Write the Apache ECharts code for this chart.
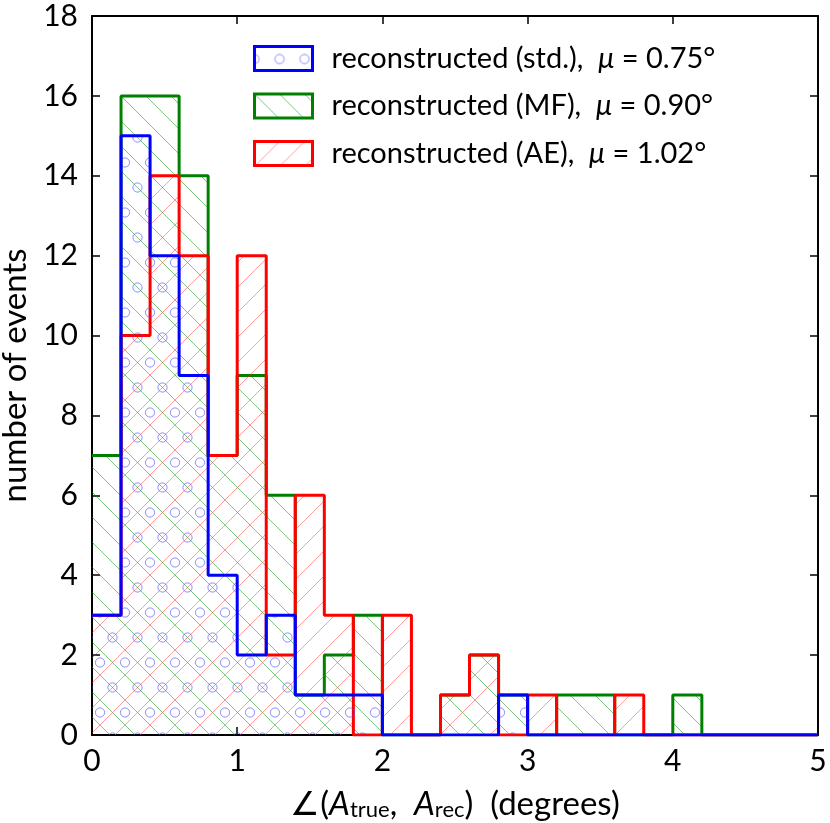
<!DOCTYPE html>
<html>
<head>
<meta charset="utf-8">
<script src="https://cdn.jsdelivr.net/npm/echarts@6/dist/echarts.min.js"></script>
<style>
  html, body { margin: 0; padding: 0; background: #fff; }
  #chart { width: 830px; height: 823px; }
</style>
</head>
<body>
<div id="chart"></div>
<script>
// bin edges (degrees), 0.2 wide
const binEdges = [0, 0.2, 0.4, 0.6, 0.8, 1.0, 1.2, 1.4, 1.6, 1.8, 2.0, 2.2, 2.4, 2.6, 2.8,
                  3.0, 3.2, 3.4, 3.6, 3.8, 4.0, 4.2, 4.4, 4.6, 4.8, 5.0];

// counts per bin
const countsStd = [3, 15, 12, 9, 4, 2, 3, 1, 1, 1, 0, 0, 0, 0, 1, 0, 0, 0, 0, 0, 0, 0, 0, 0, 0];
const countsMF  = [7, 16, 16, 14, 7, 9, 6, 1, 2, 3, 0, 0, 1, 2, 1, 0, 1, 1, 0, 0, 1, 0, 0, 0, 0];
const countsAE  = [3, 10, 14, 12, 7, 12, 2, 6, 3, 0, 3, 0, 1, 2, 0, 1, 0, 0, 1, 0, 0, 0, 0, 0, 0];

const seriesNames = ['reconstructed (std.)', 'reconstructed (MF)', 'reconstructed (AE)'];
const meanLabels = ['0.75°', '0.90°', '1.02°'];

const FONT = 'Lato';

// hatch tiles
function lineHatch(color, dir) {
    const s = 25;
    const c = document.createElement('canvas');
    c.width = s; c.height = s;
    const ctx = c.getContext('2d');
    ctx.strokeStyle = color;
    ctx.lineWidth = 1;
    for (let k = -1; k <= 1; k++) {
        ctx.beginPath();
        if (dir === '/') {
            ctx.moveTo(k * s, s);
            ctx.lineTo(k * s + s, 0);
        } else {
            ctx.moveTo(k * s, 0);
            ctx.lineTo(k * s + s, s);
        }
        ctx.stroke();
    }
    return { image: c, repeat: 'repeat' };
}

function circleHatch(color) {
    const w = 25, h = 50;
    const c = document.createElement('canvas');
    c.width = w; c.height = h;
    const ctx = c.getContext('2d');
    ctx.strokeStyle = color;
    ctx.lineWidth = 1;
    const pts = [[0, 12.5], [25, 12.5], [12.5, 37.5]];
    pts.forEach(p => {
        ctx.beginPath();
        ctx.arc(p[0], p[1], 4.6, 0, Math.PI * 2);
        ctx.stroke();
    });
    return { image: c, repeat: 'repeat' };
}

const patStd = circleHatch('rgba(70,70,255,0.6)');
const patMF = lineHatch('rgba(0,140,0,0.5)', '\\');
const patAE = lineHatch('rgba(255,40,40,0.45)', '/');

function stepData(counts) {
    const d = counts.map((c, i) => [binEdges[i], c]);
    d.push([binEdges[binEdges.length - 1], 0]);
    return d;
}

function histSeries(name, counts, color, pattern, z) {
    return {
        name: name,
        type: 'line',
        step: 'end',
        data: stepData(counts),
        symbol: 'none',
        z: z,
        lineStyle: { color: color, width: 3 },
        itemStyle: { color: color },
        areaStyle: { color: pattern, opacity: 1 },
        animation: false
    };
}

const chart = echarts.init(document.getElementById('chart'));

const axisCommon = {
    axisLine: { show: true, onZero: false, lineStyle: { color: '#000', width: 2 } },
    axisTick: { show: true, inside: true, length: 8, lineStyle: { color: '#000', width: 1.5 } },
    splitLine: { show: false }
};

const richName = {
    it: { fontFamily: FONT, fontStyle: 'italic', fontSize: 33, color: '#000' },
    sub: { fontFamily: FONT, fontSize: 22, color: '#000', verticalAlign: 'bottom', padding: [12, 0, 0, 0] },
    n: { fontFamily: FONT, fontSize: 33, color: '#000' }
};

const legendRich = {
    n: { fontFamily: FONT, fontSize: 29, color: '#000', lineHeight: 30 },
    mu: { fontFamily: FONT, fontSize: 29, fontStyle: 'italic', color: '#000', lineHeight: 30 }
};

chart.setOption({
    backgroundColor: '#fff',
    animation: false,
    grid: { left: 92, right: 12, top: 16, bottom: 88, outerBoundsMode: 'none' },
    xAxis: [
        Object.assign({
            type: 'value', min: 0, max: 5, interval: 1, position: 'bottom',
            axisLabel: { fontFamily: FONT, fontSize: 30, color: '#000', margin: 11 },
            name: '{n|∠(}{it|A}{sub|true}{n|,  }{it|A}{sub|rec}{n|)  (degrees)}',
            nameLocation: 'middle', nameGap: 52,
            nameTextStyle: { rich: richName }
        }, axisCommon),
        Object.assign({
            type: 'value', min: 0, max: 5, interval: 1, position: 'top',
            axisLabel: { show: false }
        }, axisCommon)
    ],
    yAxis: [
        Object.assign({
            type: 'value', min: 0, max: 18, interval: 2, position: 'left',
            axisLabel: { fontFamily: FONT, fontSize: 30, color: '#000', margin: 14 },
            name: 'number of events', nameLocation: 'middle', nameGap: 58, nameRotate: 90,
            nameTextStyle: { fontFamily: FONT, fontSize: 33, color: '#000' }
        }, axisCommon),
        Object.assign({
            type: 'value', min: 0, max: 18, interval: 2, position: 'right',
            axisLabel: { show: false }
        }, axisCommon)
    ],
    legend: {
        left: 248, top: 39,
        orient: 'vertical',
        icon: 'rect',
        itemWidth: 58, itemHeight: 24, itemGap: 18.5,
        selectedMode: false,
        data: [
            { name: seriesNames[0], itemStyle: { color: patStd, borderColor: '#0000ff', borderWidth: 3 } },
            { name: seriesNames[1], itemStyle: { color: patMF, borderColor: '#008000', borderWidth: 3 } },
            { name: seriesNames[2], itemStyle: { color: patAE, borderColor: '#ff0000', borderWidth: 3 } }
        ],
        formatter: name => {
            const i = seriesNames.indexOf(name);
            return '{n|' + name + ',  }{mu|μ}{n| = ' + meanLabels[i] + '}';
        },
        textStyle: { rich: legendRich, padding: [0, 0, 0, 14] }
    },
    series: [
        histSeries(seriesNames[1], countsMF, '#008000', patMF, 2),
        histSeries(seriesNames[2], countsAE, '#ff0000', patAE, 3),
        histSeries(seriesNames[0], countsStd, '#0000ff', patStd, 4)
    ]
});
</script>
</body>
</html>
